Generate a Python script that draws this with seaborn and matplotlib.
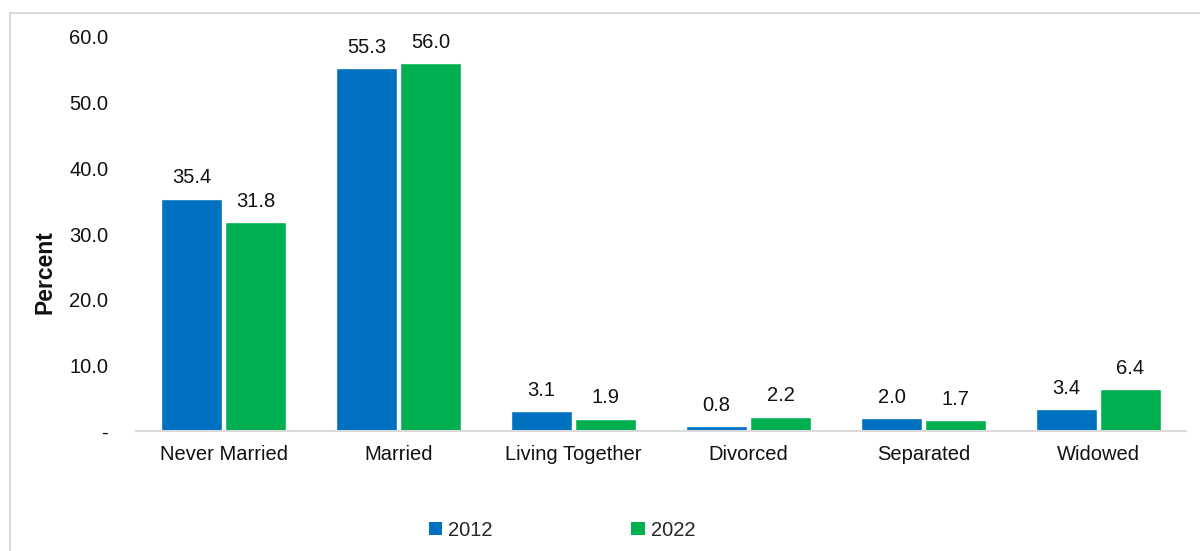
import matplotlib
matplotlib.use("Agg")
import matplotlib.pyplot as plt
import seaborn as sns
import pandas as pd
from matplotlib.patches import Rectangle, Patch

categories = ["Never Married", "Married", "Living Together", "Divorced", "Separated", "Widowed"]
years = ["2012", "2022"]
values_2012 = [35.4, 55.3, 3.1, 0.8, 2.0, 3.4]
values_2022 = [31.8, 56.0, 1.9, 2.2, 1.7, 6.4]
yticks = [0, 10, 20, 30, 40, 50, 60]
ytick_labels = ["-", "10.0", "20.0", "30.0", "40.0", "50.0", "60.0"]
colors = {"2012": "#0070C0", "2022": "#00B050"}

df = pd.DataFrame({
    "Status": categories * 2,
    "Year": [years[0]] * len(categories) + [years[1]] * len(categories),
    "Percent": values_2012 + values_2022,
})

sns.set_theme(style="white")
plt.rcParams["font.family"] = ["Liberation Sans", "DejaVu Sans"]

FS = 14.5
fig = plt.figure(figsize=(12, 5.51), dpi=100)
ax = fig.add_axes([136/1200, 1-431/551, (1186-136)/1200, (431-37)/551])

sns.barplot(data=df, x="Status", y="Percent", hue="Year", order=categories,
            hue_order=years, palette=colors, width=0.73, gap=0.04,
            saturation=1, legend=False, ax=ax)

for cont in ax.containers:
    ax.bar_label(cont, fmt="%.1f", padding=8, fontsize=FS, color="#111111")

ax.set_ylim(0, 60)
ax.set_xlim(-0.5, len(categories) - 0.5)
ax.set_yticks(yticks)
ax.set_yticklabels(ytick_labels, fontsize=FS, color="#111111")
ax.tick_params(axis="y", length=0, pad=20)
ax.tick_params(axis="x", length=0, pad=10, labelsize=FS, labelcolor="#111111")
ax.set_xlabel("")
ax.set_ylabel("")
for s in ["top", "right", "left"]:
    ax.spines[s].set_visible(False)
ax.spines["bottom"].set_color("#d9d9d9")
ax.spines["bottom"].set_linewidth(1.5)
for t in ax.texts:
    t.set_clip_on(False)

fig.text(45/1200, 1-272/551, "Percent", rotation=90, fontsize=16.5, fontweight="bold",
         ha="center", va="center", color="#111111")

handles = [Patch(facecolor=colors[y], edgecolor="none") for y in years]
fig.legend(handles, years, loc="center", bbox_to_anchor=(562/1200, 1-530/551), ncol=2,
           frameon=False, fontsize=FS, handlelength=0.65, handleheight=0.65,
           handletextpad=0.3, columnspacing=6.9)

fig.add_artist(Rectangle((10/1200, -0.05), 1.2, 1-13/551+0.05, transform=fig.transFigure,
                         fill=False, edgecolor="#d9d9d9", linewidth=1.5))

fig.savefig("out.png", dpi=100)
